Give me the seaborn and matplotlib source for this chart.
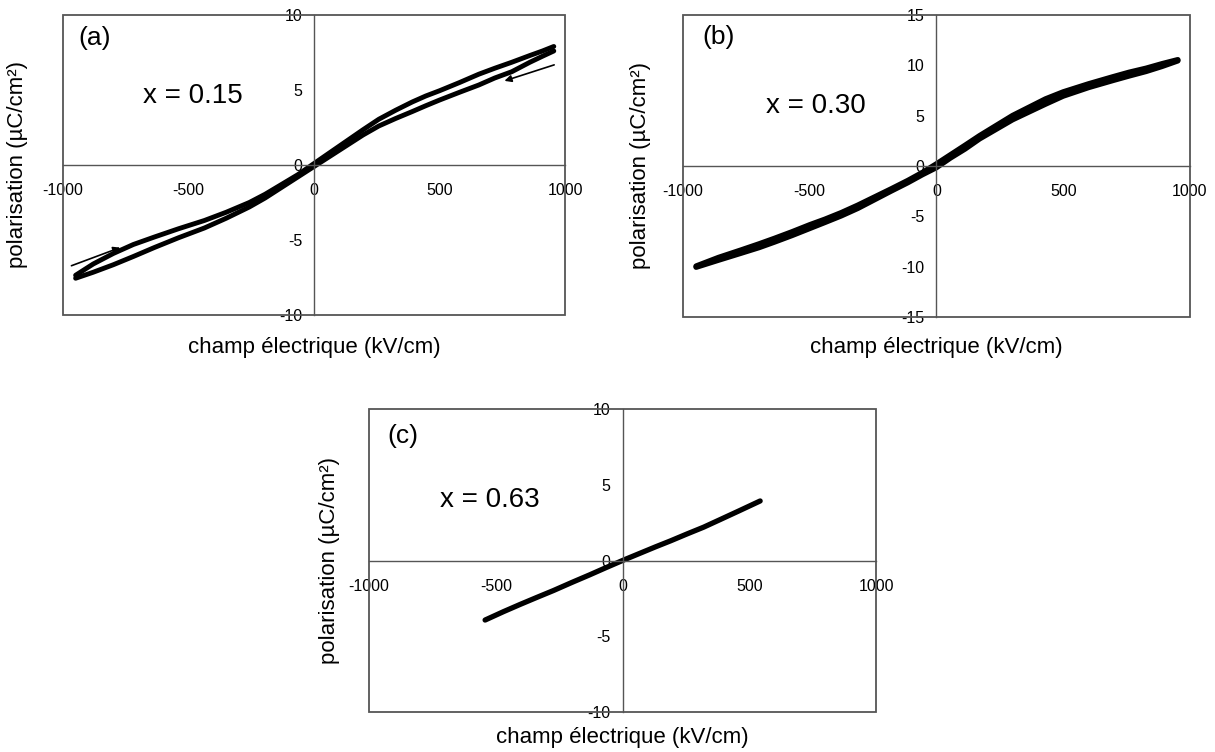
import matplotlib
matplotlib.use("Agg")
import matplotlib.pyplot as plt
import pandas as pd
import seaborn as sns
from matplotlib.patches import Rectangle

# (a) x = 0.15 : boucle, branche descendante puis montante
E_a_down = [955, 910, 860, 788, 720, 656, 580, 500, 445, 391, 325, 258, 195, 130, 65, 0,
            -65, -130, -195, -258, -350, -437, -540, -636, -720, -800, -880, -950]
P_a_down = [7.9, 7.6, 7.3, 6.85, 6.45, 6.05, 5.5, 4.95, 4.6, 4.2, 3.65, 3.05, 2.35, 1.6, 0.85, 0.1,
            -0.65, -1.3, -1.95, -2.5, -3.15, -3.7, -4.25, -4.8, -5.3, -5.9, -6.6, -7.35]
E_a_up = [-950, -880, -800, -720, -636, -540, -437, -350, -258, -195, -130, -65, 0,
          65, 130, 195, 258, 325, 391, 445, 500, 580, 656, 720, 788, 860, 910, 955]
P_a_up = [-7.55, -7.15, -6.65, -6.1, -5.5, -4.85, -4.2, -3.55, -2.8, -2.2, -1.5, -0.8, -0.1,
          0.6, 1.3, 2.0, 2.6, 3.1, 3.56, 3.95, 4.33, 4.85, 5.33, 5.8, 6.22, 6.85, 7.25, 7.6]

# (b) x = 0.30
E_b_down = [952, 890, 827, 760, 696, 600, 500, 430, 367, 300, 235, 170, 113, 55, 0,
            -55, -113, -180, -245, -310, -376, -440, -500, -570, -639, -700, -770, -860, -948]
P_b_down = [10.55, 10.15, 9.7, 9.3, 8.85, 8.15, 7.35, 6.65, 5.85, 5.0, 4.0, 3.0, 2.05, 1.1, 0.2,
            -0.65, -1.45, -2.3, -3.1, -3.9, -4.65, -5.3, -5.85, -6.55, -7.2, -7.75, -8.35, -9.1, -9.95]
E_b_up = [-948, -860, -770, -700, -639, -570, -500, -440, -376, -310, -245, -180, -113, -55, 0,
          55, 113, 170, 235, 300, 367, 430, 500, 600, 696, 760, 827, 890, 952]
P_b_up = [-10.05, -9.35, -8.65, -8.1, -7.55, -6.9, -6.2, -5.6, -4.95, -4.2, -3.35, -2.5, -1.65, -0.85, -0.15,
          0.8, 1.7, 2.7, 3.65, 4.6, 5.4, 6.15, 6.95, 7.8, 8.5, 8.95, 9.4, 9.9, 10.45]

# (c) x = 0.63
E_c = [-542, -470, -404, -340, -272, -200, -130, -65, 0, 65, 130, 190, 254, 320, 385, 460, 543]
P_c = [-3.93, -3.38, -2.9, -2.45, -1.98, -1.45, -0.95, -0.47, 0.0, 0.45, 0.9, 1.3, 1.75, 2.2, 2.7, 3.28, 3.93]

xticks = [-1000, -500, 0, 500, 1000]
yticks_10 = [-10, -5, 0, 5, 10]
yticks_15 = [-15, -10, -5, 0, 5, 10, 15]

sns.set_style("white")
plt.rcParams["font.family"] = ["Liberation Sans", "DejaVu Sans"]
plt.rcParams["axes.unicode_minus"] = False
plt.rcParams["text.color"] = "black"
plt.rcParams["axes.labelcolor"] = "black"

GREY = "#555555"


def draw_panel(ax, branches, ylim, yticks, tag, tag_xy, comp, comp_xy, lw, xlab_y, ylab_x):
    for E, P in branches:
        df = pd.DataFrame({"E": E, "P": P})
        sns.lineplot(data=df, x="E", y="P", sort=False, estimator=None,
                     color="black", lw=lw, solid_capstyle="round", ax=ax)
    ax.set_xlim(-1000, 1000)
    ax.set_ylim(*ylim)
    ax.set_xticks(xticks)
    ax.set_yticks(yticks)
    # axes qui se croisent a l'origine
    ax.spines["left"].set_position(("data", 0))
    ax.spines["bottom"].set_position(("data", 0))
    for s in ["left", "bottom"]:
        ax.spines[s].set_color(GREY)
        ax.spines[s].set_linewidth(1.0)
    ax.spines["top"].set_visible(False)
    ax.spines["right"].set_visible(False)
    ax.add_patch(Rectangle((0, 0), 1, 1, transform=ax.transAxes, fill=False,
                           ec=GREY, lw=1.3, clip_on=False, zorder=5))
    ax.tick_params(axis="both", direction="inout", length=6, width=1, color=GREY,
                   labelsize=11.5, labelcolor="black")
    ax.tick_params(axis="x", pad=10)
    ax.tick_params(axis="y", pad=5.5)

    ax.set_xlabel("champ électrique (kV/cm)", fontsize=16)
    ax.xaxis.set_label_coords(0.5, xlab_y)
    ax.xaxis.label.set_va("center")
    ax.set_ylabel("polarisation (µC/cm²)", fontsize=16)
    ax.yaxis.set_label_coords(ylab_x, 0.5)
    ax.yaxis.label.set_va("center")

    ax.text(tag_xy[0], tag_xy[1], tag, fontsize=19, va="center", ha="left")
    ax.text(comp_xy[0], comp_xy[1], comp, fontsize=20, va="baseline", ha="left")


fig = plt.figure(figsize=(12.15, 7.52), dpi=100)
ax_a = fig.add_axes([0.0519, 0.5811, 0.4132, 0.399])
ax_b = fig.add_axes([0.5621, 0.5785, 0.4173, 0.4016])
ax_c = fig.add_axes([0.3037, 0.0532, 0.4173, 0.4029])

draw_panel(ax_a, [(E_a_down, P_a_down), (E_a_up, P_a_up)], (-10, 10), yticks_10,
           "(a)", (-940, 8.47), "x = 0.15", (-682, 4.15), 3.5, -0.107, -0.09)
draw_panel(ax_b, [(E_b_down, P_b_down), (E_b_up, P_b_up)], (-15, 15), yticks_15,
           "(b)", (-924, 12.8), "x = 0.30", (-671, 5.23), 4.0, -0.1, -0.083)
draw_panel(ax_c, [(E_c, P_c)], (-10, 10), yticks_10,
           "(c)", (-928, 8.25), "x = 0.63", (-718, 3.52), 3.8, -0.083, -0.077)

# fleches du sens de parcours (a)
arrow = dict(arrowstyle="-|>", lw=1.2, color="black", mutation_scale=10)
ax_a.annotate("", xy=(748, 5.55), xytext=(967, 6.73), arrowprops=arrow)
ax_a.annotate("", xy=(-762, -5.44), xytext=(-977, -6.78), arrowprops=arrow)

plt.savefig("out.png", dpi=100)
